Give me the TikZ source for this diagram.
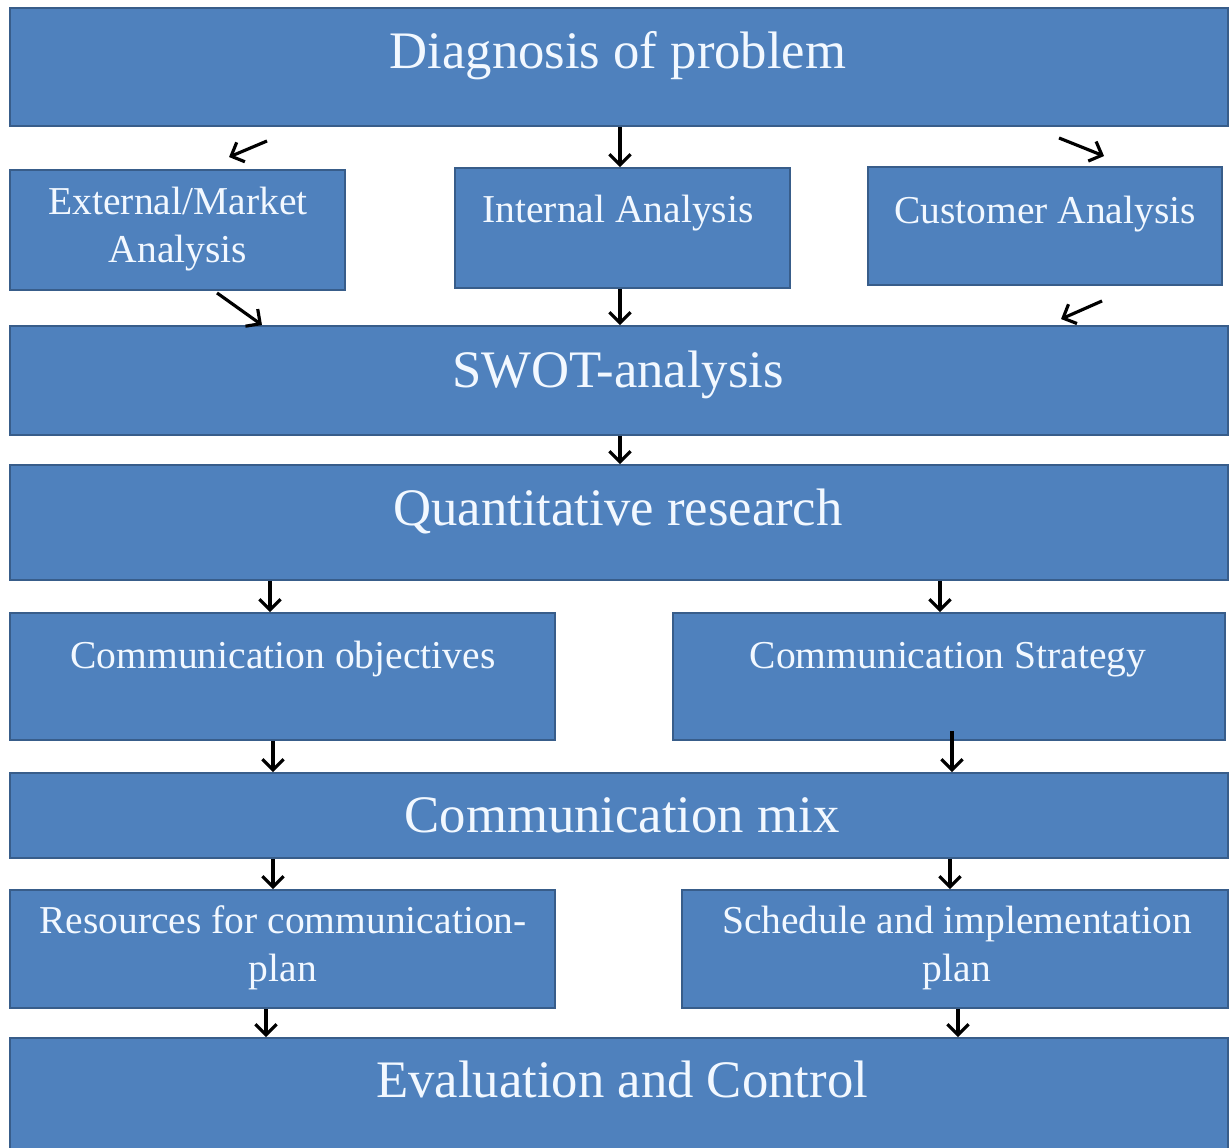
\documentclass[tikz,border=0pt]{standalone}
\usepackage{fontspec}
\setmainfont{Liberation Serif}
\usetikzlibrary{arrows.meta,calc}
\definecolor{boxfill}{HTML}{4F81BD}
\definecolor{boxline}{HTML}{385D8A}
\definecolor{txt}{HTML}{F2F8FF}
\tikzset{
  x=0.02cm, y=-0.02cm,
  box/.style={draw=boxline, fill=boxfill, line width=1.1pt, inner sep=0pt, rectangle},
  big/.style={text=txt, font=\fontsize{30}{34}\selectfont, anchor=base, inner sep=0pt},
  small/.style={text=txt, font=\fontsize{22.5}{27}\selectfont, anchor=base, inner sep=0pt, align=center},
  arr/.style={-{Straight Barb[length=6pt,width=12pt,line width=1.8pt]}, line width=1.8pt, black},
}
\newcommand\mybox[5]{\node[box, minimum width={(#4-#2)*0.02cm}, minimum height={(#5-#3)*0.02cm}] (#1) at ({(#2+#4)/2},{(#3+#5)/2}) {};}
\begin{document}
\begin{tikzpicture}
\useasboundingbox[fill=white] (0,0) rectangle (1230,1147);
\mybox{diag}{10}{8}{1228}{126}
\mybox{ext}{10}{170}{345}{290}
\mybox{int}{455}{168}{790}{288}
\mybox{cust}{868}{167}{1222}{285}
\mybox{swot}{10}{326}{1228}{435}
\mybox{quant}{10}{465}{1228}{580}
\mybox{obj}{10}{613}{555}{740}
\mybox{strat}{673}{613}{1225}{740}
\mybox{mix}{10}{773}{1228}{858}
\mybox{res}{10}{890}{555}{1008}
\mybox{sched}{682}{890}{1228}{1008}
\mybox{eval}{10}{1038}{1228}{1152}

\node[big] (tdiag) at (618,68) {Diagnosis of problem};
\node[small] (text) at (178,262) {External/Market\\Analysis};
\node[small] (tint) at (618,222) {Internal Analysis};
\node[small] (tcust) at (1045,223) {Customer Analysis};
\node[big] (tswot) at (618,387) {SWOT-analysis};
\node[big] (tquant) at (618,525) {Quantitative research};
\node[small] (tobj) at (283,668) {Communication objectives};
\node[small] (tstrat) at (948,668) {Communication Strategy};
\node[big] (tmix) at (622,832) {Communication mix};
\node[small] (tres) at (283,981) {Resources for communication-\\plan};
\node[small] (tsched) at (957,981) {Schedule and implementation\\plan};
\node[big] (teval) at (622,1097) {Evaluation and Control};

\draw[arr] ($(diag.south west)+(258,14)$) -- ($(ext.north west)+(220,-12)$);
\draw[arr] (diag.south -| 620,0) -- (int.north -| 620,0);
\draw[arr] ($(diag.south west)+(1050,11)$) -- ($(cust.north west)+(237,-10)$);
\draw[arr] ($(ext.south west)+(208,2)$) -- (swot.north -| 262,0);
\draw[arr] (int.south -| 620,0) -- (swot.north -| 620,0);
\draw[arr] ($(cust.south west)+(235,15)$) -- ($(swot.north west)+(1052,-6)$);
\draw[arr] (swot.south -| 620,0) -- (quant.north -| 620,0);
\draw[arr] (quant.south -| 270,0) -- (obj.north -| 270,0);
\draw[arr] (quant.south -| 940,0) -- (strat.north -| 940,0);
\draw[arr] (obj.south -| 273,0) -- (mix.north -| 273,0);
\draw[arr] ($(strat.south -| 952,0)+(0,-10)$) -- (mix.north -| 952,0);
\draw[arr] (mix.south -| 273,0) -- (res.north -| 273,0);
\draw[arr] (mix.south -| 950,0) -- (sched.north -| 950,0);
\draw[arr] (res.south -| 266,0) -- (eval.north -| 266,0);
\draw[arr] (sched.south -| 958,0) -- (eval.north -| 958,0);
\end{tikzpicture}
\end{document}
